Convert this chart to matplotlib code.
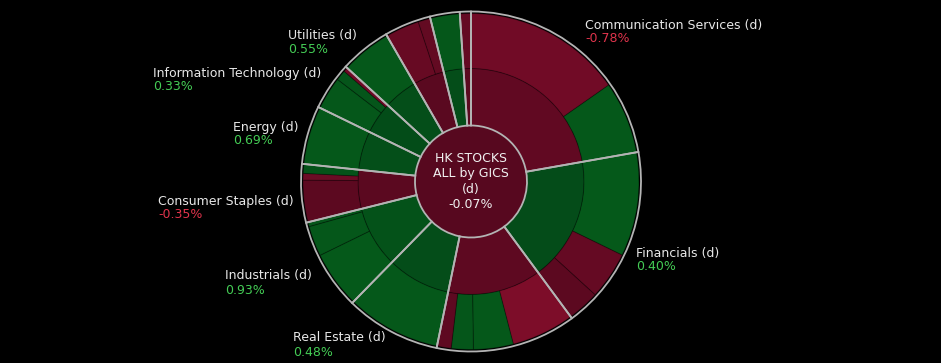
import matplotlib
matplotlib.use("Agg")
import matplotlib.pyplot as plt

# ---------------- data ----------------
# GICS sectors, clockwise from 12 o'clock
sectors = ["Communication Services", "Financials", "Consumer Discretionary",
           "Real Estate", "Industrials", "Consumer Staples", "Energy",
           "Information Technology", "Utilities", "Health Care", "Materials",
           "Other"]
sector_change = [-0.78, 0.40, -0.60, 0.48, 0.93, -0.35, 0.69, 0.33, 0.55,
                 -0.30, 0.50, -0.40]
sector_labeled = [True, True, False, True, True, True, True, True, True,
                  False, False, False]

total_title = "HK STOCKS\nALL by GICS\n(d)"
total_change = -0.07

# outer ring: industries (parent sector index, weight % of market cap, change %)
ind_parent = [0, 0, 1, 1, 1, 2, 2, 2, 2, 3, 4, 4, 4, 5, 5, 5, 6, 7, 7, 7,
              8, 9, 9, 10, 11]
ind_weight = [15.28, 6.94, 10.00, 4.56, 3.11, 6.06, 3.83, 2.11, 1.36, 9.08,
              5.44, 2.92, 0.42, 4.03, 0.64, 0.89, 5.56, 3.17, 1.00, 0.42,
              4.86, 3.25, 1.19, 2.83, 1.06]
ind_change = [-1.90, 1.50, 1.60, -1.10, -0.40, -2.80, 1.50, 1.30, -0.60,
              1.50, 1.60, 1.40, 1.30, -0.40, -1.50, 0.90, 1.50, 1.40, 1.20,
              -1.80, 1.50, -1.20, -0.90, 1.40, -1.00]

# ---------------- derived ----------------
sector_weight = [sum(w for w, p in zip(ind_weight, ind_parent) if p == i)
                 for i in range(len(sectors))]


def cell_color(v):
    t = min(abs(v) / 3.0, 1.0)
    if v < 0:
        lo, hi = (0x56, 0x08, 0x1f), (0x80, 0x0d, 0x2a)
    else:
        lo, hi = (0x03, 0x48, 0x18), (0x07, 0x68, 0x1c)
    return tuple((a + (b - a) * t) / 255 for a, b in zip(lo, hi))


# ---------------- figure ----------------
W, H = 941, 363
fig = plt.figure(figsize=(W / 100, H / 100), dpi=100, facecolor="black")
ax = fig.add_axes([0, 0, 1, 1])
ax.set_facecolor("black")

C = (471, 181.5)
R0, R1, R2, RB = 56, 113, 168, 170

common = dict(center=C, startangle=90, counterclock=False)
ax.pie([1], radius=R0, colors=[cell_color(total_change)], center=C,
       wedgeprops=dict(edgecolor="none"))
ax.pie(sector_weight, radius=R1, colors=[cell_color(v) for v in sector_change],
       wedgeprops=dict(width=R1 - R0, edgecolor=(0, 0, 0, 0.28), linewidth=0.7),
       **common)
ax.pie(ind_weight, radius=R2, colors=[cell_color(v) for v in ind_change],
       wedgeprops=dict(width=R2 - R1, edgecolor=(0, 0, 0, 0.28), linewidth=0.7),
       **common)
ax.pie(sector_weight, radius=RB,
       wedgeprops=dict(width=RB - R0, facecolor="none", edgecolor="#b4b4b4",
                       linewidth=1.3),
       **common)

ax.set_xlim(0, W)
ax.set_ylim(0, H)
ax.set_aspect("equal")
ax.axis("off")

FONT = "DejaVu Sans"
FS = 9
ax.text(C[0], C[1], total_title + f"\n{total_change:.2f}%", ha="center",
        va="center", multialignment="center", color="#f0f0f0", fontsize=FS,
        family=FONT, linespacing=1.2)

# label layout (left x, line-centre y from the top of the image)
label_pos = {
    "Communication Services": (585, 25),
    "Financials": (636, 253),
    "Real Estate": (293, 338),
    "Industrials": (225, 276),
    "Consumer Staples": (158, 201),
    "Energy": (233, 127),
    "Information Technology": (153, 73),
    "Utilities": (288, 35.5),
}
for name, ch, show in zip(sectors, sector_change, sector_labeled):
    if not show:
        continue
    x, y = label_pos[name]
    ax.text(x, H - y, f"{name} (d)", ha="left", va="center", color="#e8e8e8",
            fontsize=FS, family=FONT)
    ax.text(x, H - y - 14, f"{ch:.2f}%", ha="left", va="center",
            color="#44cc55" if ch >= 0 else "#e0344c", fontsize=FS, family=FONT)

fig.savefig("out.png", dpi=100, facecolor="black")
